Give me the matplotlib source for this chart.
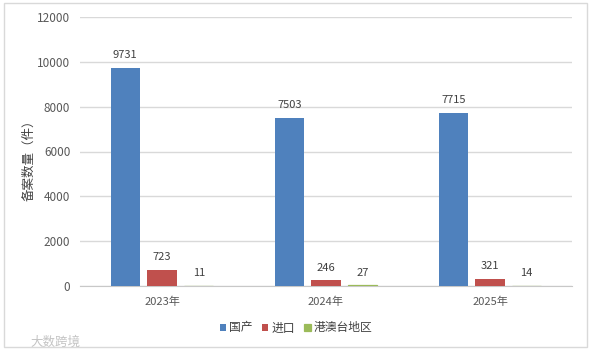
import matplotlib
matplotlib.use("Agg")
import matplotlib.pyplot as plt
from matplotlib.patches import Rectangle
import numpy as np

plt.rcParams['font.family'] = ['Noto Sans CJK SC', 'DejaVu Sans']

years = ['2023年', '2024年', '2025年']
series_names = ['国产', '进口', '港澳台地区']
domestic = [9731, 7503, 7715]
imported = [723, 246, 321]
hk_tw = [11, 27, 14]
yticks = [0, 2000, 4000, 6000, 8000, 10000, 12000]
colors = ['#4f81bd', '#c0504d', '#9bbb59']
text_color = '#404040'

fig = plt.figure(figsize=(5.9, 3.54), dpi=100)
fig.add_artist(Rectangle((4/590, 1-347/354), 583/590, 344/354, transform=fig.transFigure,
                         fill=False, ec='#d9d9d9', lw=1))
ax = fig.add_axes([80/590, 1-286/354, (572-80)/590, (286-17)/354])
x = np.arange(3)
pitch = 0.224
w = 0.177
for i, (vals, c, n) in enumerate(zip([domestic, imported, hk_tw], colors, series_names)):
    bars = ax.bar(x + (i-1)*pitch, vals, w, color=c, label=n, ec=c,
                  lw=0.9 if i == 2 else 0, zorder=3)
    for b, v in zip(bars, vals):
        ax.text(b.get_x()+b.get_width()/2, v+340, str(v), ha='center', va='bottom',
                fontsize=8, color=text_color)
ax.set_xlim(-0.5, 2.5)
ax.set_ylim(0, 12000)
ax.set_yticks(yticks)
ax.set_xticks(x)
ax.set_xticklabels(years)
ax.tick_params(axis='y', length=0, labelsize=8.5, colors='#595959', pad=7)
ax.tick_params(axis='x', length=0, labelsize=8, colors='#595959', pad=8)
ax.grid(axis='y', color='#d9d9d9', lw=1)
ax.set_axisbelow(True)
for s in ['top', 'right', 'left']:
    ax.spines[s].set_visible(False)
ax.spines['bottom'].set_color('#c8c8c8')
ax.set_ylabel('备案数量（件）', fontsize=9, color=text_color)
ax.yaxis.set_label_coords(-45/492, 0.48)
ax.legend(loc='center', bbox_to_anchor=(296/590, 1-328/354), bbox_transform=fig.transFigure,
          ncol=3, frameon=False, fontsize=8.5, labelcolor=text_color,
          handlelength=0.55, handleheight=0.55, handletextpad=0.25, columnspacing=0.8)
fig.text(30/590, 1-346/354, '大数跨境', fontsize=9, color='#c4c4c4')
fig.savefig('out.png', dpi=100)
